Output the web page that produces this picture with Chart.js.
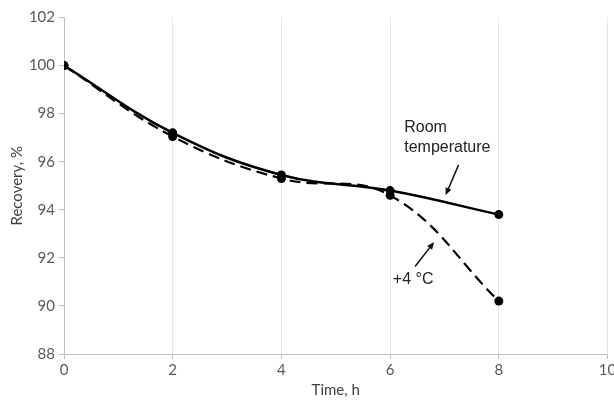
<!DOCTYPE html>
<html>
<head>
<meta charset="utf-8">
<script src="https://cdn.jsdelivr.net/npm/chart.js@4.4.0/dist/chart.umd.min.js"></script>
<style>
  html, body { margin: 0; padding: 0; background: #fff; }
  #wrap { width: 614px; height: 404px; }
</style>
</head>
<body>
<div id="wrap"><canvas id="recoveryChart" width="614" height="404"></canvas></div>
<script>
// ==========================
// Data
// ==========================
const hours = [0, 2, 4, 6, 8];
const roomTemp = [100, 97.2, 95.45, 94.8, 93.8];
const fridge = [100, 97.05, 95.3, 94.6, 90.2];

const xRange = [0, 10];
const yRange = [88, 102];

// callout labels and arrows (in data units)
const labels = [
  { text: 'Room', x: 6.26, y: 97.43 },
  { text: 'temperature', x: 6.26, y: 96.58 },
  { text: '+4 °C', x: 6.05, y: 91.08 }
];
const arrows = [
  { from: [7.26, 95.87], to: [7.02, 94.6] },
  { from: [6.46, 91.64], to: [6.81, 92.66] }
];

const toPoints = (ys) => hours.map((h, i) => ({ x: h, y: ys[i] }));

// ==========================
// Callout plugin
// ==========================
const callouts = {
  id: 'callouts',
  afterDatasetsDraw(chart) {
    const ctx = chart.ctx;
    const xs = chart.scales.x, ys = chart.scales.y;
    ctx.save();
    ctx.fillStyle = '#222';
    ctx.font = '16px "Liberation Sans", Arial, sans-serif';
    ctx.textBaseline = 'middle';
    ctx.textAlign = 'left';
    labels.forEach(l => {
      ctx.fillText(l.text, xs.getPixelForValue(l.x), ys.getPixelForValue(l.y));
    });

    ctx.strokeStyle = '#111';
    ctx.lineWidth = 1.5;
    arrows.forEach(a => {
      const x1 = xs.getPixelForValue(a.from[0]), y1 = ys.getPixelForValue(a.from[1]);
      const x2 = xs.getPixelForValue(a.to[0]), y2 = ys.getPixelForValue(a.to[1]);
      const ang = Math.atan2(y2 - y1, x2 - x1);
      const len = 8, spread = 0.4;
      ctx.beginPath();
      ctx.moveTo(x1, y1);
      ctx.lineTo(x2 - Math.cos(ang) * 4, y2 - Math.sin(ang) * 4);
      ctx.stroke();
      ctx.beginPath();
      ctx.moveTo(x2, y2);
      ctx.lineTo(x2 - len * Math.cos(ang - spread), y2 - len * Math.sin(ang - spread));
      ctx.lineTo(x2 - len * Math.cos(ang + spread), y2 - len * Math.sin(ang + spread));
      ctx.closePath();
      ctx.fillStyle = '#111';
      ctx.fill();
    });
    ctx.restore();
  }
};

// ==========================
// Chart
// ==========================
const axisFont = { family: 'Lato, "Open Sans", sans-serif', size: 15 };

new Chart(document.getElementById('recoveryChart').getContext('2d'), {
  type: 'line',
  data: {
    datasets: [
      {
        label: 'Room temperature',
        data: toPoints(roomTemp),
        borderColor: '#000',
        backgroundColor: '#000',
        borderWidth: 2.5,
        tension: 0.4,
        pointRadius: 4.5,
        pointBorderWidth: 0,
        fill: false
      },
      {
        label: '+4 °C',
        data: toPoints(fridge),
        borderColor: '#000',
        backgroundColor: '#000',
        borderWidth: 2.2,
        borderDash: [11, 6],
        tension: 0.4,
        pointRadius: 4.5,
        pointBorderWidth: 0,
        fill: false
      }
    ]
  },
  options: {
    responsive: false,
    animation: false,
    layout: { padding: { top: 17.5, right: 6.5, left: 0, bottom: 0 } },
    plugins: {
      legend: { display: false },
      tooltip: { enabled: false }
    },
    scales: {
      x: {
        type: 'linear',
        min: xRange[0],
        max: xRange[1],
        ticks: { stepSize: 2, color: '#595959', font: axisFont, padding: 2 },
        grid: { color: '#e6e6e6', tickLength: 5, tickColor: '#bfbfbf' },
        border: { color: '#bfbfbf', width: 1 },
        title: { display: true, text: 'Time, h', color: '#404040', font: axisFont, padding: { top: 0, bottom: 5 } },
        afterFit: (scale) => {
          scale.height = 50;
          scale.paddingRight = 0;
          scale.paddingLeft = 0;
        }
      },
      y: {
        min: yRange[0],
        max: yRange[1],
        ticks: { stepSize: 2, color: '#595959', font: axisFont, padding: 4 },
        grid: { drawOnChartArea: false, color: '#bfbfbf', tickLength: 5 },
        border: { color: '#bfbfbf', width: 1 },
        title: { display: true, text: 'Recovery, %', color: '#404040', font: axisFont, padding: { top: 8, bottom: 0 } },
        afterFit: (scale) => { scale.width = 64; }
      }
    }
  },
  plugins: [callouts]
});
</script>
</body>
</html>
